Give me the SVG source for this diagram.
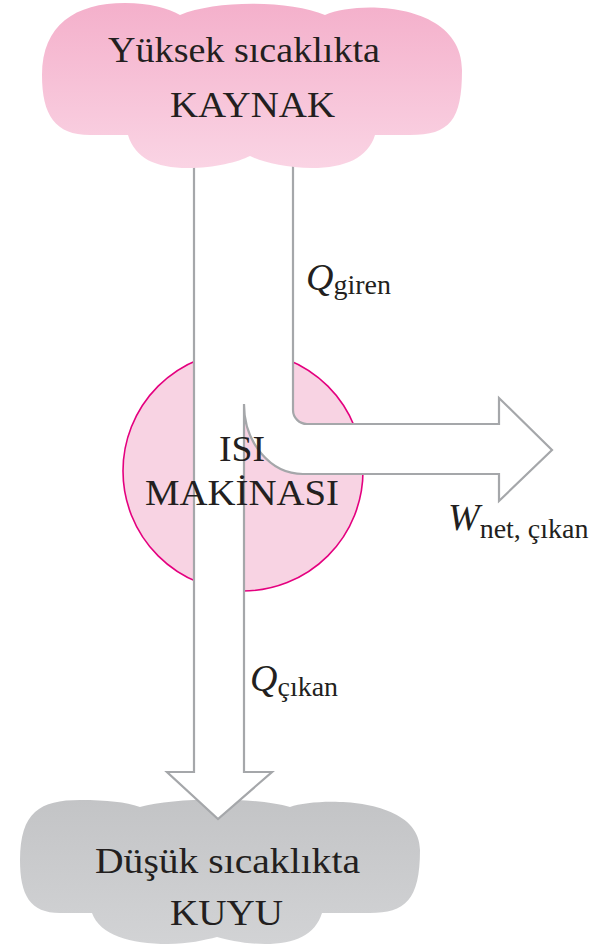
<svg xmlns="http://www.w3.org/2000/svg" width="594" height="946" viewBox="0 0 594 946" font-family="Liberation Serif, Times New Roman, Times, Nimbus Roman, DejaVu Serif, serif">
<defs>
<linearGradient id="gPink" x1="0" y1="0" x2="0" y2="1">
<stop offset="0" stop-color="#f4b0cb"/>
<stop offset="1" stop-color="#fad4e4"/>
</linearGradient>
<linearGradient id="gGray" x1="0" y1="0" x2="0" y2="1">
<stop offset="0" stop-color="#c3c4c6"/>
<stop offset="1" stop-color="#d2d3d5"/>
</linearGradient>
<style>
text{fill:#231f20;}
.big{font-size:36px;}
.q{font-size:38px;font-style:italic;}
.sub{font-size:28px;}
.flow{fill:#ffffff;stroke:#a5a7aa;stroke-width:2.2;stroke-linejoin:miter;}
</style>
</defs>
<rect width="594" height="946" fill="#ffffff"/>

<g id="engine">
<circle cx="243" cy="471" r="120" fill="#f8d3e3" stroke="#e4007f" stroke-width="1.6"/>
</g>

<g id="sink">
<path d="M 140,807 C 175,797 255,797 290,807 C 320,797 420,797 420,850 C 420,900 405,913 370,913 L 322,913 C 315,935 295,944 265,944 C 245,944 228,940 217,937 C 205,940 188,944 168,944 C 130,944 100,935 92,913 L 60,913 C 30,913 20,895 20,860 C 20,812 40,800 80,800 C 108,800 125,802 140,807 Z" fill="url(#gGray)"/>
</g>

<g id="connectors">
<path class="flow" d="M 194,150 L 194,772 L 167,772 L 218,819 L 272,772 L 244,772 L 244,404 A 59 70 0 0 0 303 474 L 499,474 L 499,501 L 552,450 L 499,398 L 499,424 L 307,424 A 14 14 0 0 1 293 410 L 293,150 Z"/>
</g>

<g id="source">
<path d="M 180,15 C 215,0 290,0 325,15 C 360,0 462,3 462,70 C 462,120 450,135 410,135 L 375,135 C 368,158 345,168 312,168 C 285,168 262,162 250,156 C 238,162 215,168 188,168 C 155,168 135,158 128,135 L 90,135 C 55,135 42,115 42,75 C 42,25 75,3 125,3 C 150,3 168,8 180,15 Z" fill="url(#gPink)"/>
<text class="big" x="108" y="62" textLength="272" lengthAdjust="spacingAndGlyphs">Yüksek sıcaklıkta</text>
<text class="big" x="170" y="117" textLength="165" lengthAdjust="spacingAndGlyphs">KAYNAK</text>
</g>

<g id="engine-label">
<text class="big" x="219" y="461" textLength="46" lengthAdjust="spacingAndGlyphs">ISI</text>
<text class="big" x="145" y="505" textLength="194" lengthAdjust="spacingAndGlyphs">MAKİNASI</text>
</g>

<g id="sink-label">
<text class="big" x="95" y="873" textLength="265" lengthAdjust="spacingAndGlyphs">Düşük sıcaklıkta</text>
<text class="big" x="170" y="925" textLength="113" lengthAdjust="spacingAndGlyphs">KUYU</text>
</g>

<g id="labels">
<text x="306" y="290"><tspan class="q">Q</tspan><tspan class="sub" dy="4">giren</tspan></text>
<text x="250" y="691"><tspan class="q">Q</tspan><tspan class="sub" dy="5">çıkan</tspan></text>
<text x="448" y="530"><tspan class="q">W</tspan><tspan class="sub" dy="8">net, çıkan</tspan></text>
</g>
</svg>
